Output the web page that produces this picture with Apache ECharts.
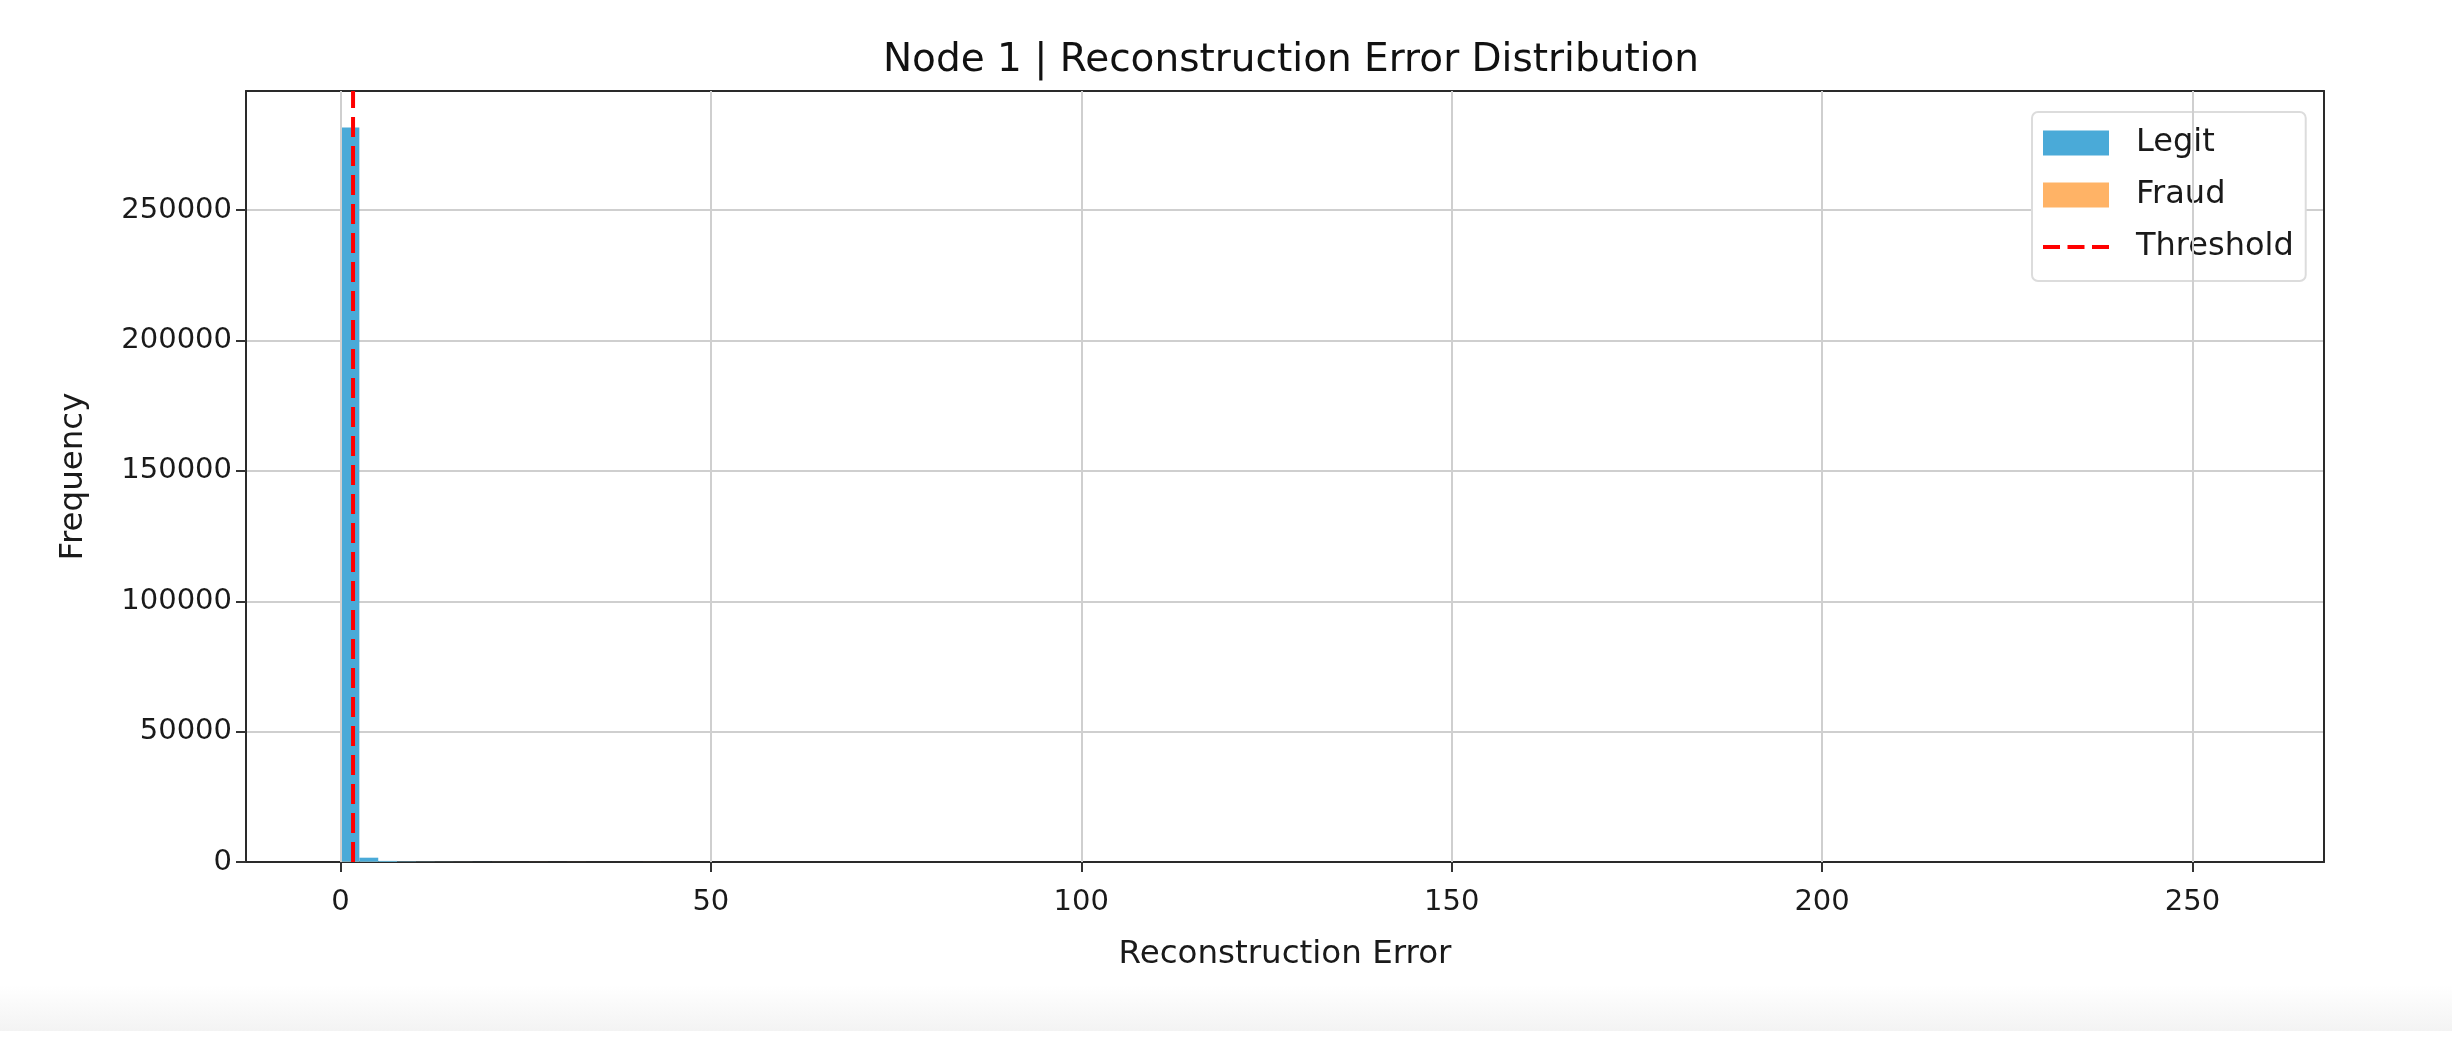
<!DOCTYPE html>
<html>
<head>
<meta charset="utf-8">
<script src="https://cdn.jsdelivr.net/npm/echarts@6/dist/echarts.min.js"></script>
<style>
html,body{margin:0;padding:0;background:#fff;}
#chart{width:2452px;height:1059px;}
</style>
</head>
<body>
<div id="chart"></div>
<script>
// ---- data ----
const titleText = 'Node 1 | Reconstruction Error Distribution';
const xLabel = 'Reconstruction Error';
const yLabel = 'Frequency';
const binWidth = 2.55;
const legitBinStarts = [0, 2.55, 5.1, 7.65, 10.2, 12.75, 15.3, 17.85, 20.4, 22.95, 30.6, 45.9, 61.2, 252.45];
const legitCounts    = [281700, 1650, 420, 180, 95, 60, 40, 25, 18, 12, 6, 3, 2, 1];
const fraudBinStarts = [0, 2.55, 5.1, 7.65, 10.2, 12.75, 15.3, 20.4, 25.5, 30.6, 40.8, 51, 76.5, 102, 153];
const fraudCounts    = [95, 70, 55, 45, 38, 30, 25, 22, 20, 18, 15, 12, 9, 6, 3];
const threshold = 1.7;
const xTicks = [0, 50, 100, 150, 200, 250];
const xMin = -12.75, xMax = 267.75;
const yMax = 295700;

// ---- chart ----
const chart = echarts.init(document.getElementById('chart'), null, {renderer: 'canvas'});
const font = 'DejaVu Sans';
const frameColor = '#2a2a2a';
const dashIcon = 'path://M0,0H0.01V0.01H0Z M0,24.99H0.01V25H0Z M0,10.5H17V14.5H0Z M24.5,10.5H41.5V14.5H24.5Z M49,10.5H66V14.5H49Z';
function histData(starts, counts) {
  return starts.map((s, i) => [s, s + binWidth, counts[i]]);
}
function renderBar(params, api) {
  const p0 = api.coord([api.value(0), 0]);
  const p1 = api.coord([api.value(1), api.value(2)]);
  return {
    type: 'rect',
    shape: {x: p0[0], y: p1[1], width: p1[0] - p0[0], height: p0[1] - p1[1]},
    style: api.style()
  };
}
const frameAxisLine = {show: true, onZero: false, lineStyle: {color: frameColor, width: 2}};
const option = {
  backgroundColor: '#ffffff',
  animation: false,
  title: {
    text: titleText, left: 1286, top: 36, textAlign: 'center',
    textStyle: {fontFamily: font, fontSize: 39, fontWeight: 'normal', color: '#111'}
  },
  graphic: [{
    type: 'rect', left: 0, top: 985, z: -10,
    shape: {width: 2452, height: 46},
    style: {fill: new echarts.graphic.LinearGradient(0, 0, 0, 1, [
      {offset: 0, color: '#ffffff'}, {offset: 1, color: '#f3f3f3'}])}
  }],
  grid: {left: 246, right: 128, top: 91, bottom: 197, show: false},
  legend: {
    orient: 'vertical', left: 2032, top: 112,
    padding: [15, 12, 18, 11],
    backgroundColor: '#ffffff', borderColor: '#dcdcdc', borderWidth: 2, borderRadius: 6,
    itemWidth: 66, itemHeight: 25, itemGap: 20,
    textStyle: {fontFamily: font, fontSize: 32, color: '#1a1a1a', lineHeight: 25, padding: [0, 0, 0, 22]},
    data: [{name: 'Legit', icon: 'rect'}, {name: 'Fraud', icon: 'rect'},
           {name: 'Threshold', icon: dashIcon, itemStyle: {color: '#ff0000'}}]
  },
  xAxis: [{
    type: 'value', min: xMin, max: xMax,
    name: xLabel, nameLocation: 'middle', nameGap: 76,
    nameTextStyle: {fontFamily: font, fontSize: 32.5, color: '#1a1a1a'},
    axisLine: frameAxisLine,
    axisTick: {show: true, customValues: xTicks, length: 10, lineStyle: {color: '#333', width: 2}},
    axisLabel: {customValues: xTicks, fontFamily: font, fontSize: 29, color: '#1a1a1a', margin: 26},
    splitLine: {show: false}
  }, {
    type: 'value', min: xMin, max: xMax, position: 'top',
    axisLine: frameAxisLine, axisTick: {show: false}, axisLabel: {show: false}, splitLine: {show: false}
  }],
  yAxis: [{
    type: 'value', min: 0, max: yMax, interval: 50000,
    name: yLabel, nameLocation: 'middle', nameGap: 156, nameRotate: 90,
    nameTextStyle: {fontFamily: font, fontSize: 32.5, color: '#1a1a1a'},
    axisLine: frameAxisLine,
    axisTick: {show: true, length: 10, lineStyle: {color: '#333', width: 2}},
    axisLabel: {fontFamily: font, fontSize: 29, color: '#1a1a1a', margin: 14, showMaxLabel: false,
                formatter: v => String(v)},
    splitLine: {show: true, lineStyle: {color: '#cfcfcf', width: 2}}
  }, {
    type: 'value', min: 0, max: yMax, position: 'right',
    axisLine: frameAxisLine, axisTick: {show: false}, axisLabel: {show: false}, splitLine: {show: false}
  }],
  series: [
    {
      name: 'GridX', type: 'line', data: [], silent: true,
      markLine: {silent: true, symbol: 'none', label: {show: false},
        lineStyle: {color: '#cfcfcf', width: 2, type: 'solid'},
        data: xTicks.map(v => ({xAxis: v}))},
      z: 0
    },
    {
      name: 'Legit', type: 'custom', renderItem: renderBar,
      itemStyle: {color: '#4aaad8'},
      encode: {x: [0, 1], y: 2},
      data: histData(legitBinStarts, legitCounts), z: 2
    },
    {
      name: 'Fraud', type: 'custom', renderItem: renderBar,
      itemStyle: {color: '#ffb366'},
      encode: {x: [0, 1], y: 2},
      data: histData(fraudBinStarts, fraudCounts), z: 3
    },
    {
      name: 'Threshold', type: 'line', symbol: 'none', showSymbol: false,
      lineStyle: {color: '#ff0000', width: 4, type: [20, 9]},
      itemStyle: {color: '#ff0000'},
      data: [[threshold, 0], [threshold, yMax]], z: 5
    }
  ]
};
chart.setOption(option);
</script>
</body>
</html>
